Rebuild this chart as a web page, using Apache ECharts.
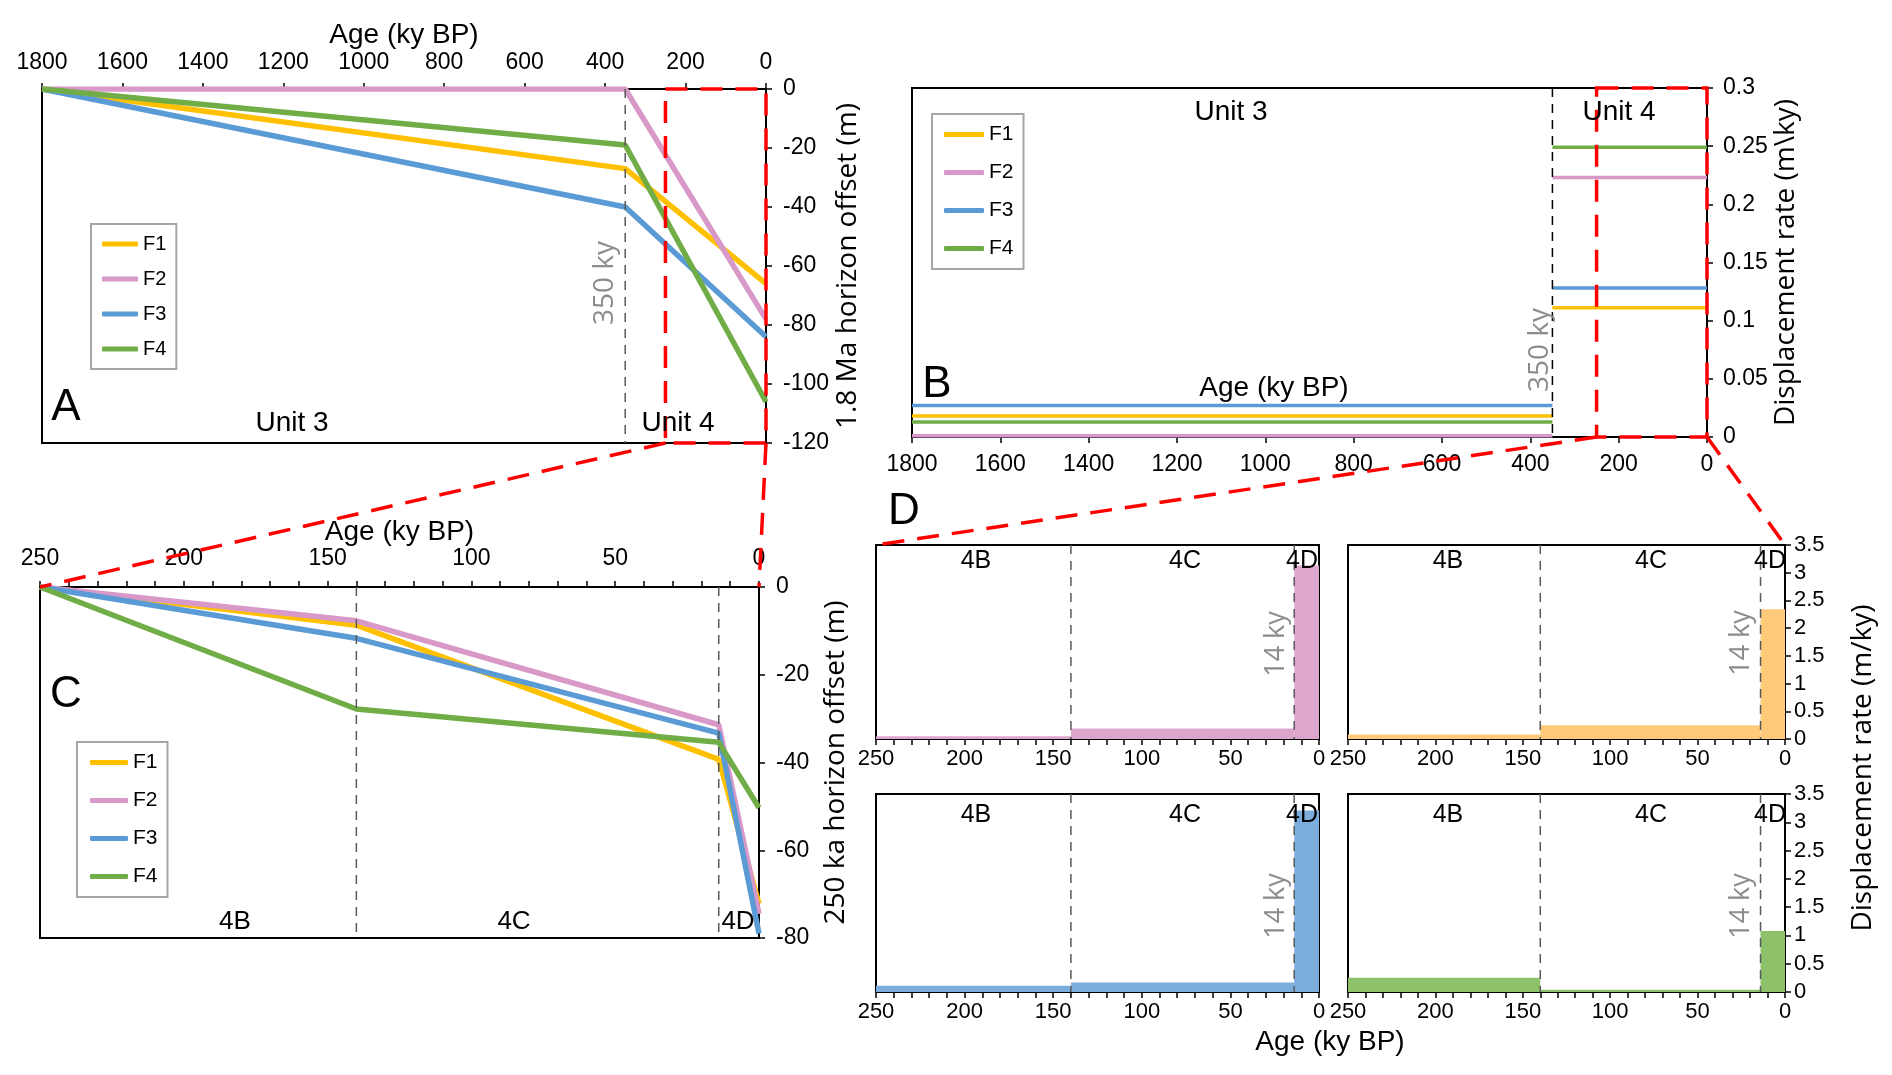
<!DOCTYPE html>
<html>
<head>
<meta charset="utf-8">
<title>Fault offsets and displacement rates</title>
<script src="https://cdn.jsdelivr.net/npm/echarts@6.0.0/dist/echarts.min.js"></script>
<style>
  html, body { margin: 0; padding: 0; background: #fff; }
  #chart { width: 1892px; height: 1075px; }
</style>
</head>
<body>
<div id="chart"></div>
<script>
// ---- values ----
const faults = ["F1", "F2", "F3", "F4"];

// A: 1.8 Ma horizon offset (m) at age (ky BP)
const agesA = [1800, 350, 0];
const offsetA_F1 = [0, -27, -66];
const offsetA_F2 = [0, 0, -78];
const offsetA_F3 = [0, -40, -84];
const offsetA_F4 = [0, -19, -106];

// B: displacement rate (m/ky) for unit 3 (1800-350) and unit 4 (350-0)
const unitAges = [1800, 350, 0];
const rateB_F1 = [0.018, 0.111];
const rateB_F2 = [0.001, 0.223];
const rateB_F3 = [0.027, 0.128];
const rateB_F4 = [0.013, 0.249];

// C: 250 ka horizon offset (m)
const agesC = [250, 140, 14, 0];
const offsetC_F1 = [0, -8.7, -39.3, -72.2];
const offsetC_F2 = [0, -7.7, -31.4, -74.5];
const offsetC_F3 = [0, -11.7, -33.3, -79];
const offsetC_F4 = [0, -27.8, -35.4, -50.3];

// D: displacement rate (m/ky) for stages 4B, 4C, 4D
const stageAges = [250, 140, 14, 0];
const stageNames = ["4B", "4C", "4D"];
const rateD_F1 = [0.08, 0.25, 2.34];
const rateD_F2 = [0.05, 0.19, 3.13];
const rateD_F3 = [0.11, 0.17, 3.21];
const rateD_F4 = [0.25, 0.04, 1.08];

// unit boundaries (dashed lines) and the zoomed window
const boundaryAB = [350];
const boundaryCD = [140, 14];
const zoomWindow = [250, 0];

// ---- styles ----
const lineColors = ["#FFC000", "#D898C8", "#5B9BD5", "#70AD47"];
const fillColors = { F1: "#FFCA7A", F2: "#DDA7CD", F3: "#7BADDD", F4: "#8DC26A" };
const numFont = "'Liberation Sans', Arial, sans-serif";
const textFont = "'Open Sans', 'DejaVu Sans', sans-serif";

function merge(a, b) {
  const out = Array.isArray(a) ? a.slice() : Object.assign({}, a);
  Object.keys(b).forEach((k) => {
    const v = b[k];
    if (v && typeof v === "object" && !Array.isArray(v) && out[k] && typeof out[k] === "object") {
      out[k] = merge(out[k], v);
    } else {
      out[k] = v;
    }
  });
  return out;
}

// plain numbers, no thousands separator
const plain = (v) => String(Math.round(v * 100) / 100);

const axisCommon = {
  type: "value",
  nameLocation: "middle",
  nameTextStyle: { color: "#000", fontFamily: textFont, fontSize: 28 },
  axisLine: { show: true, onZero: false, lineStyle: { color: "#000", width: 2 } },
  axisTick: { show: true, inside: false, length: 6, lineStyle: { color: "#000", width: 1.5 } },
  axisLabel: { color: "#000", fontFamily: numFont, fontSize: 23, margin: 14, formatter: plain },
  splitLine: { show: false },
};
const minorTen = { show: true, splitNumber: 5, length: 6, lineStyle: { color: "#000", width: 1.5 } };

const grids = [
  { left: 42, top: 89, width: 724, height: 354 }, // A
  { left: 912, top: 88, width: 795, height: 349 }, // B
  { left: 40, top: 587, width: 719, height: 351 }, // C
  { left: 876, top: 545, width: 443, height: 194 }, // D F2
  { left: 1348, top: 545, width: 437, height: 194 }, // D F1
  { left: 876, top: 794, width: 443, height: 198 }, // D F3
  { left: 1348, top: 794, width: 437, height: 198 }, // D F4
].map((g) =>
  Object.assign({ show: true, borderColor: "#000", borderWidth: 2, backgroundColor: "rgba(0,0,0,0)", outerBoundsMode: "none" }, g)
);

const xAxes = [
  merge(axisCommon, {
    gridIndex: 0, min: 0, max: 1800, interval: 200, inverse: true, position: "top",
    name: "Age (ky BP)", nameGap: 40, nameTextStyle: { fontFamily: numFont },
    axisLabel: { margin: 15 },
  }),
  merge(axisCommon, { gridIndex: 1, min: 0, max: 1800, interval: 200, inverse: true, position: "bottom", axisLabel: { margin: 16 } }),
  merge(axisCommon, {
    gridIndex: 2, min: 0, max: 250, interval: 50, inverse: true, position: "top",
    name: "Age (ky BP)", nameGap: 38, nameTextStyle: { fontFamily: numFont },
    minorTick: minorTen, axisLabel: { margin: 17 },
  }),
];
for (let g = 3; g <= 6; g++) {
  xAxes.push(merge(axisCommon, {
    gridIndex: g, min: 0, max: 250, interval: 50, inverse: true, position: "bottom",
    minorTick: minorTen, axisLabel: { fontSize: 22, margin: 9 },
  }));
}

const yAxes = [
  merge(axisCommon, {
    gridIndex: 0, min: -120, max: 0, interval: 20, position: "right",
    name: "1.8 Ma horizon offset (m)", nameGap: 68, axisLabel: { margin: 17 },
  }),
  merge(axisCommon, {
    gridIndex: 1, min: 0, max: 0.3, interval: 0.05, position: "right",
    name: "Displacement rate (m\\ky)", nameGap: 62, axisLabel: { margin: 16 },
  }),
  merge(axisCommon, {
    gridIndex: 2, min: -80, max: 0, interval: 20, position: "right",
    name: "250 ka horizon offset (m)", nameGap: 63, axisLabel: { margin: 17 },
  }),
];
for (let g = 3; g <= 6; g++) {
  const labelled = g === 4 || g === 6;
  yAxes.push(merge(axisCommon, {
    gridIndex: g, min: 0, max: 3.5, interval: 0.5, position: "right",
    axisTick: { inside: !labelled },
    axisLabel: { show: labelled, fontSize: 22, margin: 9 },
  }));
}

// ---- series ----
const series = [];

function dashedBoundaries(gi, ages, color) {
  return {
    type: "custom", xAxisIndex: gi, yAxisIndex: gi, z: 4, silent: true,
    data: ages.map((a) => [a]), encode: { x: 0 },
    renderItem: (params, api) => {
      const cs = params.coordSys;
      const px = api.coord([api.value(0), 0])[0];
      return {
        type: "line",
        shape: { x1: px, y1: cs.y, x2: px, y2: cs.y + cs.height },
        style: { stroke: color, lineWidth: 1.5, lineDash: [9, 7] },
      };
    },
  };
}

function zoomBox(gi) {
  return {
    type: "custom", xAxisIndex: gi, yAxisIndex: gi, z: 6, silent: true,
    data: [zoomWindow], encode: { x: [0, 1] },
    renderItem: (params, api) => {
      const cs = params.coordSys;
      const x1 = api.coord([api.value(0), 0])[0];
      const x2 = api.coord([api.value(1), 0])[0];
      return {
        type: "rect",
        shape: { x: x1, y: cs.y, width: x2 - x1, height: cs.height },
        style: { fill: "none", stroke: "#FF0000", lineWidth: 3.5, lineDash: [22, 13] },
      };
    },
  };
}

// A
[offsetA_F1, offsetA_F2, offsetA_F3, offsetA_F4].forEach((vals, i) => {
  series.push({
    type: "line", name: faults[i], xAxisIndex: 0, yAxisIndex: 0, z: 3,
    data: agesA.map((a, k) => [a, vals[k]]),
    symbol: "none", color: lineColors[i], lineStyle: { width: 5.5, color: lineColors[i] },
  });
});
series.push(dashedBoundaries(0, boundaryAB, "#595959"));
series.push(zoomBox(0));

// B: each fault is one flat line per unit
[rateB_F1, rateB_F2, rateB_F3, rateB_F4].forEach((vals, i) => {
  const data = [];
  vals.forEach((v, k) => {
    if (k > 0) data.push([unitAges[k], "-"]);
    data.push([unitAges[k], v], [unitAges[k + 1], v]);
  });
  series.push({
    type: "line", name: faults[i], xAxisIndex: 1, yAxisIndex: 1, z: 3,
    data: data, connectNulls: false,
    symbol: "none", color: lineColors[i], lineStyle: { width: 3.5, color: lineColors[i] },
  });
});
series.push(dashedBoundaries(1, boundaryAB, "#000"));
series.push(zoomBox(1));

// C
[offsetC_F1, offsetC_F2, offsetC_F3, offsetC_F4].forEach((vals, i) => {
  series.push({
    type: "line", name: faults[i], xAxisIndex: 2, yAxisIndex: 2, z: 3,
    data: agesC.map((a, k) => [a, vals[k]]),
    symbol: "none", color: lineColors[i], lineStyle: { width: 5.5, color: lineColors[i] },
  });
});
series.push(dashedBoundaries(2, boundaryCD, "#595959"));

// D: stage rates drawn as blocks from stage start to stage end
const dPanels = [
  { grid: 3, fault: "F2", rates: rateD_F2 },
  { grid: 4, fault: "F1", rates: rateD_F1 },
  { grid: 5, fault: "F3", rates: rateD_F3 },
  { grid: 6, fault: "F4", rates: rateD_F4 },
];
dPanels.forEach((p) => {
  series.push({
    type: "custom", name: p.fault + " stages", xAxisIndex: p.grid, yAxisIndex: p.grid, z: 2,
    color: fillColors[p.fault],
    data: p.rates.map((r, k) => [stageAges[k], stageAges[k + 1], r]),
    encode: { x: [0, 1], y: 2 },
    renderItem: (params, api) => {
      const a = api.coord([api.value(0), api.value(2)]);
      const b = api.coord([api.value(1), 0]);
      return {
        type: "rect",
        shape: { x: Math.min(a[0], b[0]), y: a[1], width: Math.abs(b[0] - a[0]), height: b[1] - a[1] },
        style: { fill: api.visual("color") },
      };
    },
  });
  series.push(dashedBoundaries(p.grid, boundaryCD, "#595959"));
});

// ---- legends ----
function legendBox(left, top, itemWidth, itemGap, padding, size) {
  return {
    orient: "vertical", left: left, top: top, data: faults,
    icon: "roundRect", itemWidth: itemWidth, itemHeight: 5, itemGap: itemGap,
    padding: padding, borderColor: "#A6A6A6", borderWidth: 2, backgroundColor: "#fff",
    textStyle: { color: "#000", fontFamily: numFont, fontSize: size },
    selectedMode: false,
  };
}

const option = {
  animation: false,
  backgroundColor: "#fff",
  grid: grids,
  xAxis: xAxes,
  yAxis: yAxes,
  legend: [
    legendBox(91, 224, 36, 15, [10, 10, 10, 11], 20),
    legendBox(932, 114, 40, 17, [10, 10, 10, 12], 21),
    legendBox(77, 742, 38, 17, [10, 10, 10, 13], 21),
  ],
  series: series,
};

const chart = echarts.init(document.getElementById("chart"));
chart.setOption(option);

// ---- text annotations and zoom connectors ----
function note(text, x, y, size, font, color, vertical) {
  return {
    type: "text", x: x, y: y, z: 20, silent: true,
    rotation: vertical ? Math.PI / 2 : 0,
    style: { text: text, fontSize: size, fontFamily: font, fill: color, align: "center", verticalAlign: "middle" },
  };
}

const notes = [
  note("A", 66, 408, 44, numFont, "#000"),
  note("Unit 3", 292, 423, 28, numFont, "#000"),
  note("Unit 4", 678, 423, 28, numFont, "#000"),
  note("350 ky", 605, 283, 28, textFont, "#8C8C8C", true),

  note("B", 937, 385, 44, numFont, "#000"),
  note("Unit 3", 1231, 112, 28, numFont, "#000"),
  note("Unit 4", 1619, 112, 28, numFont, "#000"),
  note("Age (ky BP)", 1274, 388, 28, numFont, "#000"),
  note("350 ky", 1540, 350, 28, textFont, "#8C8C8C", true),

  note("C", 66, 695, 44, numFont, "#000"),
  note("4B", 235, 922, 26, numFont, "#000"),
  note("4C", 514, 922, 26, numFont, "#000"),
  note("4D", 738, 922, 26, numFont, "#000"),

  note("D", 904, 512, 44, numFont, "#000"),
  note("Age (ky BP)", 1330, 1042, 28, numFont, "#000"),
  note("Displacement rate (m/ky)", 1863, 768, 28, textFont, "#000", true),
];
stageNames.forEach((s, k) => {
  const cols = [[976, 1448], [1185, 1651], [1302, 1770]][k];
  [561, 815].forEach((y) => cols.forEach((x) => notes.push(note(s, x, y, 25, numFont, "#000"))));
});
[[1276, 644], [1741, 643], [1276, 906], [1741, 906]].forEach((p) =>
  notes.push(note("14 ky", p[0], p[1], 27, textFont, "#8C8C8C", true))
);

function connector(p, q) {
  return {
    type: "line", z: 30, silent: true,
    shape: { x1: p[0], y1: p[1], x2: q[0], y2: q[1] },
    style: { stroke: "#FF0000", lineWidth: 3.5, lineDash: [22, 13] },
  };
}
const px = (gi, pt) => chart.convertToPixel({ gridIndex: gi }, pt);
const links = [
  connector(px(0, [zoomWindow[0], -120]), px(2, [zoomWindow[0], 0])),
  connector(px(0, [zoomWindow[1], -120]), px(2, [zoomWindow[1], 0])),
  connector(px(1, [zoomWindow[0], 0]), px(3, [zoomWindow[0], 3.5])),
  connector(px(1, [zoomWindow[1], 0]), px(4, [zoomWindow[1], 3.5])),
];

chart.setOption({ graphic: { elements: notes.concat(links) } });
</script>
</body>
</html>
